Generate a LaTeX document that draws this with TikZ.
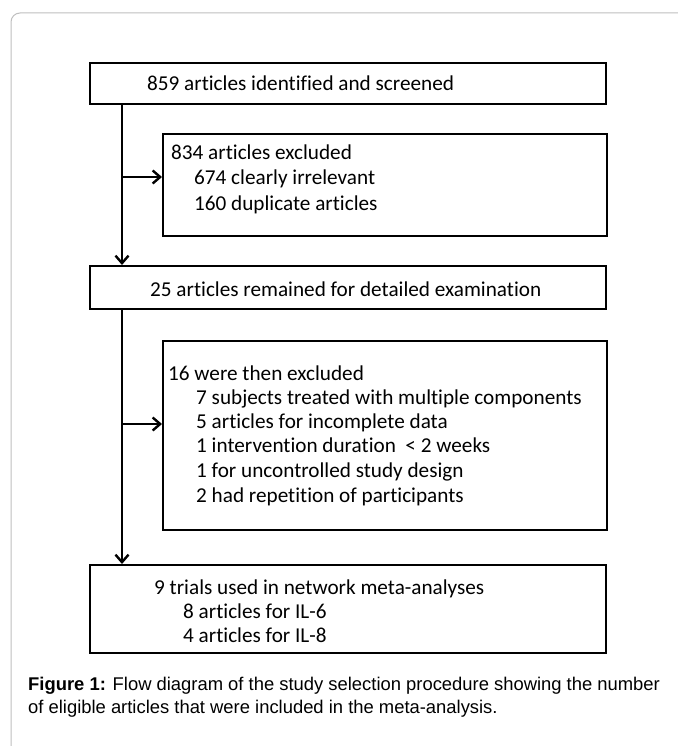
\documentclass[tikz,border=0pt]{standalone}
\usepackage{fontspec}
\setmainfont{Carlito}[Ligatures=NoCommon]
\newfontfamily\capfont{Liberation Sans}
\usetikzlibrary{arrows.meta,calc}
\begin{document}
\begin{tikzpicture}[x=1pt,y=-1pt,
  box/.style={draw=black,line width=2.4pt,rectangle,inner sep=0pt,anchor=north west},
  txt/.style={anchor=base west,inner sep=0pt,font=\fontsize{21.2}{24}\selectfont},
  captxt/.style={anchor=base west,inner sep=0pt,font=\capfont\fontsize{18.4}{21}\selectfont},
  arr/.style={line width=2.2pt,-{Straight Barb[length=7.5pt,width=13pt,line width=2.4pt]}}]
\useasboundingbox (0,0) rectangle (677,746);
\fill[white] (0,0) rectangle (677,746);
\draw[gray!50,line width=1pt,rounded corners=9pt] (11,760) -- (11,13) -- (700,13);
% boxes
\node[box,minimum width=516pt,minimum height=41pt] (b1) at (89,62) {};
\node[box,minimum width=444pt,minimum height=102pt] (b2) at (162,133) {};
\node[box,minimum width=516pt,minimum height=43pt] (b3) at (89,265) {};
\node[box,minimum width=444pt,minimum height=189pt] (b4) at (162,340) {};
\node[box,minimum width=516pt,minimum height=88pt] (b5) at (89,564) {};
% texts
\node[txt] (t1) at (147,91) {859 articles identified and screened};
\node[txt] (t2a) at (171,160) {834 articles excluded};
\node[txt] (t2b) at (194,185) {674 clearly irrelevant};
\node[txt] (t2c) at (194,210) {160 duplicate articles};
\node[txt] (t3) at (150,296) {25 articles remained for detailed examination};
\node[txt] (t4a) at (168,380) {16 were then excluded};
\node[txt] (t4b) at (196,404) {7 subjects treated with multiple components};
\node[txt] (t4c) at (196,428) {5 articles for incomplete data};
\node[txt] (t4d) at (196,452) {1 intervention duration\ \ < 2 weeks};
\node[txt] (t4e) at (196,477) {1 for uncontrolled study design};
\node[txt] (t4f) at (196,502) {2 had repetition of participants};
\node[txt] (t5a) at (154,594) {9 trials used in network meta-analyses};
\node[txt] (t5b) at (183,618) {8 articles for IL-6};
\node[txt] (t5c) at (183,642) {4 articles for IL-8};
\node[captxt] (c1) at (28,690) {\textbf{Figure 1:} Flow diagram of the study selection procedure showing the number};
\node[captxt] (c2) at (28,713) {of eligible articles that were included in the meta-analysis.};
% connectors
\coordinate (s1) at ($(b1.south west)+(33,0)$);
\coordinate (s3) at ($(b3.south west)+(33,0)$);
\draw[arr] (s1) -- (s1 |- b3.north);
\draw[arr] (s1 |- 0,177) -- (b2.west |- 0,177);
\draw[arr] (s3) -- (s3 |- b5.north);
\draw[arr] (s3 |- 0,424) -- (b4.west |- 0,424);
\end{tikzpicture}
\end{document}
